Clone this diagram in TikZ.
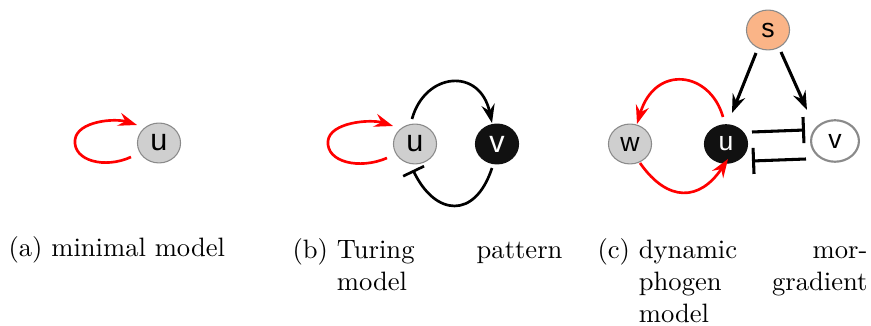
\documentclass[tikz,border=0pt]{standalone}
\usepackage{fontspec}
\newfontfamily\nodefont{Liberation Sans}
\usetikzlibrary{arrows.meta,shapes.geometric}
\definecolor{nodegray}{HTML}{CFCFCF}
\definecolor{nodeborder}{HTML}{8A8A8A}
\definecolor{peach}{HTML}{FAB487}
\definecolor{nodeblack}{HTML}{111111}
\begin{document}
\begin{tikzpicture}[x=0.376pt,y=0.376pt,
  nd/.style={ellipse, inner sep=0pt, draw=nodeborder, line width=0.4pt,
    minimum width=16.2pt, minimum height=15pt,
    font=\nodefont\fontsize{11.5}{13}\selectfont},
  ndsmall/.style={nd, font=\nodefont\fontsize{10}{12}\selectfont},
  graynd/.style={fill=nodegray},
  blacknd/.style={fill=nodeblack, draw=nodeblack, text=white},
  act/.style={line width=1pt, -{Stealth[length=7pt,width=5pt,inset=2.4pt]}},
  redact/.style={act, red},
  inh/.style={line width=1.15pt, -{Bar[width=9.8pt]}},
  captxt/.style={anchor=base west, inner sep=0pt, font=\fontsize{10}{12}\selectfont}
]
\useasboundingbox (0,0) rectangle (871,326);

% (a) minimal model
\node[nd, graynd] (ua) at (159,183) {u};
\draw[redact] ([shift={(-28,-14)}]ua.center)
  .. controls ([shift={(-54,-26)}]ua.center) and ([shift={(-86,-18)}]ua.center) .. ([shift={(-84,3)}]ua.center)
  .. controls ([shift={(-82,22)}]ua.center) and ([shift={(-44,25)}]ua.center) .. ([shift={(-22,18)}]ua.center);

% (b) Turing pattern model
\node[nd, graynd] (ub) at (415,182) {u};
\node[nd, blacknd] (vb) at (497,182) {v};
\draw[redact] ([shift={(-28,-14)}]ub.center)
  .. controls ([shift={(-56,-26)}]ub.center) and ([shift={(-89,-18)}]ub.center) .. ([shift={(-87,3)}]ub.center)
  .. controls ([shift={(-85,22)}]ub.center) and ([shift={(-44,25)}]ub.center) .. ([shift={(-22,18)}]ub.center);
\draw[act] ([shift={(-3,25)}]ub.center)
  .. controls ([shift={(10,72)}]ub.center) and ([shift={(-17,77)}]vb.center) .. ([shift={(-5,21)}]vb.center);
\draw[line width=1pt, -{Bar[width=8.7pt]}] ([shift={(-5,-24)}]vb.center)
  .. controls ([shift={(-22,-76)}]vb.center) and ([shift={(20,-72)}]ub.center) .. ([shift={(-2,-26)}]ub.center);

% (c) dynamic morphogen gradient model
\node[ndsmall, fill=peach] (s) at (768,296) {s};
\node[ndsmall, graynd] (w) at (630,182) {w};
\node[ndsmall, blacknd, minimum height=14.5pt] (uc) at (726,182) {u};
\node[ndsmall, fill=white, line width=0.8pt, minimum width=18pt, minimum height=15.6pt] (vc) at (835,185) {v};
\draw[act, line width=1.15pt] ([shift={(-12,-23)}]s.center) -- ([shift={(6,31)}]uc.center);
\draw[act, line width=1.15pt] ([shift={(13,-22)}]s.center) -- ([shift={(-28,31)}]vc.center);
\draw[redact] ([shift={(-3,27)}]uc.center)
  .. controls ([shift={(-16,73)}]uc.center) and ([shift={(25,80)}]w.center) .. ([shift={(7,20)}]w.center);
\draw[redact] ([shift={(10,-19)}]w.center)
  .. controls ([shift={(38,-59)}]w.center) and ([shift={(-26,-57)}]uc.center) .. ([shift={(2,-15)}]uc.center);
\draw[inh] ([shift={(26,12)}]uc.center) -- ([shift={(-30,11)}]vc.center);
\draw[inh] ([shift={(-29,-18)}]vc.center) -- ([shift={(26,-17)}]uc.center);

% captions
\node[captxt] (capa) at (8,69) {(a)~minimal model};
\node[captxt] (capb) at (292,67) {\parbox[t]{101.5pt}{(b)~Turing\hfill pattern\\\hphantom{(b)~}model}};
\node[captxt] (capc) at (597,67) {\parbox[t]{101.5pt}{(c)~dynamic\hfill mor-\\\hphantom{(c)~}phogen\hfill gradient\\\hphantom{(c)~}model}};
\end{tikzpicture}
\end{document}
